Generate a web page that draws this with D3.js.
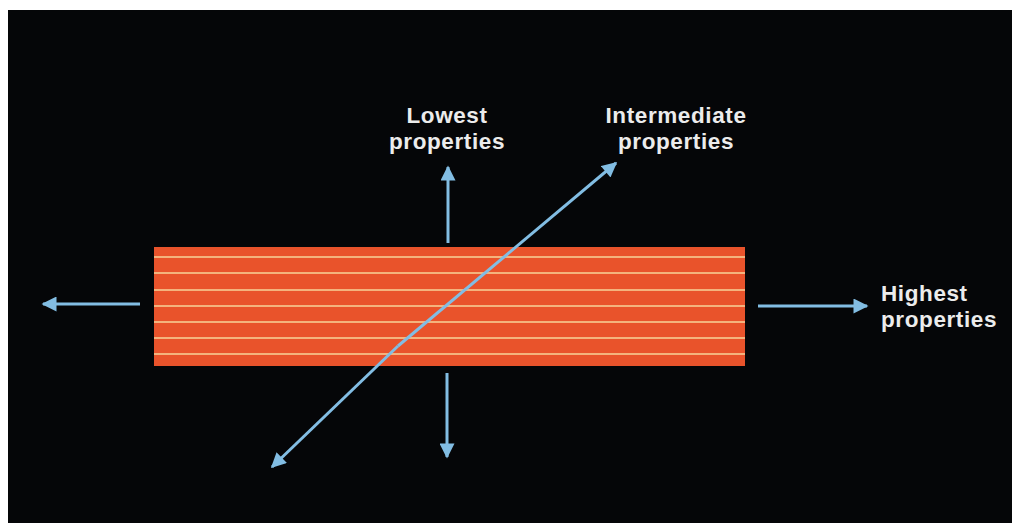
<!DOCTYPE html>
<html>
<head>
<meta charset="utf-8">
<script src="https://cdn.jsdelivr.net/npm/d3@7"></script>
<style>
  html, body { margin: 0; padding: 0; background: #fff; }
  svg { display: block; }
</style>
</head>
<body>
<svg id="chart"></svg>
<script>
// --------------------------------------
// DATA
// --------------------------------------
// laminate block, in diagram units (x 0..1012, y 0..523)
var block = [154, 247, 745, 366];
// ply lines inside the block (y positions)
var plyLines = [257, 273, 290, 306, 322, 338, 354];

// arrows: [x1, y1, x2, y2] (x2,y2 = head)
var arrowPaths = [
    [140, 304, 43, 304],
    [758, 306, 867, 306],
    [448, 243, 448, 167],
    [447, 373, 447, 457],
    [398, 346, 616, 163],
    [398, 346, 272, 467]
];

var labelLines = [
    ['Lowest', 'properties'],
    ['Intermediate', 'properties'],
    ['Highest', 'properties']
];
var labelAnchor = [[447, 123], [676, 123], [881, 301]];
var labelAlign = ['middle', 'middle', 'start'];

// --------------------------------------
// CONFIG
// --------------------------------------
var CONFIG = {
    width: 1012,
    height: 523,
    bg: '#050608',
    block: '#e9532b',
    ply: '#f7d39a',
    arrow: '#82bde3',
    text: '#ececec',
    fontSize: 22.5,
    lineGap: 26
};

var x = d3.scaleLinear().domain([0, 1012]).range([0, CONFIG.width]);
var y = d3.scaleLinear().domain([0, 523]).range([0, CONFIG.height]);

var svg = d3.select('#chart')
    .attr('width', CONFIG.width)
    .attr('height', CONFIG.height);

// photo area (white margin top/left)
svg.append('rect')
    .attr('x', x(8)).attr('y', y(10))
    .attr('width', CONFIG.width - x(8))
    .attr('height', CONFIG.height - y(10))
    .attr('fill', CONFIG.bg);

// arrow head
svg.append('defs').append('marker')
    .attr('id', 'head')
    .attr('viewBox', '0 0 10 10')
    .attr('refX', 9).attr('refY', 5)
    .attr('markerUnits', 'userSpaceOnUse')
    .attr('markerWidth', 16).attr('markerHeight', 15)
    .attr('orient', 'auto')
  .append('path')
    .attr('d', 'M0,0 L10,5 L0,10 Z')
    .attr('fill', CONFIG.arrow);

// block
svg.append('rect')
    .attr('x', x(block[0])).attr('y', y(block[1]))
    .attr('width', x(block[2]) - x(block[0]))
    .attr('height', y(block[3]) - y(block[1]))
    .attr('fill', CONFIG.block);

svg.append('g').selectAll('line')
    .data(plyLines)
    .enter().append('line')
    .attr('x1', x(block[0])).attr('x2', x(block[2]))
    .attr('y1', function(d){ return y(d); })
    .attr('y2', function(d){ return y(d); })
    .attr('stroke', CONFIG.ply)
    .attr('stroke-width', 1.6);

// arrows
svg.append('g').selectAll('line')
    .data(arrowPaths)
    .enter().append('line')
    .attr('x1', function(d){ return x(d[0]); })
    .attr('y1', function(d){ return y(d[1]); })
    .attr('x2', function(d){ return x(d[2]); })
    .attr('y2', function(d){ return y(d[3]); })
    .attr('stroke', CONFIG.arrow)
    .attr('stroke-width', 3)
    .attr('marker-end', 'url(#head)');

// labels
var labels = svg.append('g')
    .attr('font-family', "'Liberation Sans', Arial, Helvetica, sans-serif")
    .attr('font-weight', 'bold')
    .attr('font-size', CONFIG.fontSize)
    .attr('letter-spacing', 0.6)
    .attr('fill', CONFIG.text);

labelLines.forEach(function(lines, i){
    var t = labels.append('text')
        .attr('text-anchor', labelAlign[i])
        .attr('x', x(labelAnchor[i][0]))
        .attr('y', y(labelAnchor[i][1]));
    lines.forEach(function(s, j){
        t.append('tspan')
            .attr('x', x(labelAnchor[i][0]))
            .attr('dy', j === 0 ? 0 : CONFIG.lineGap)
            .text(s);
    });
});
</script>
</body>
</html>
